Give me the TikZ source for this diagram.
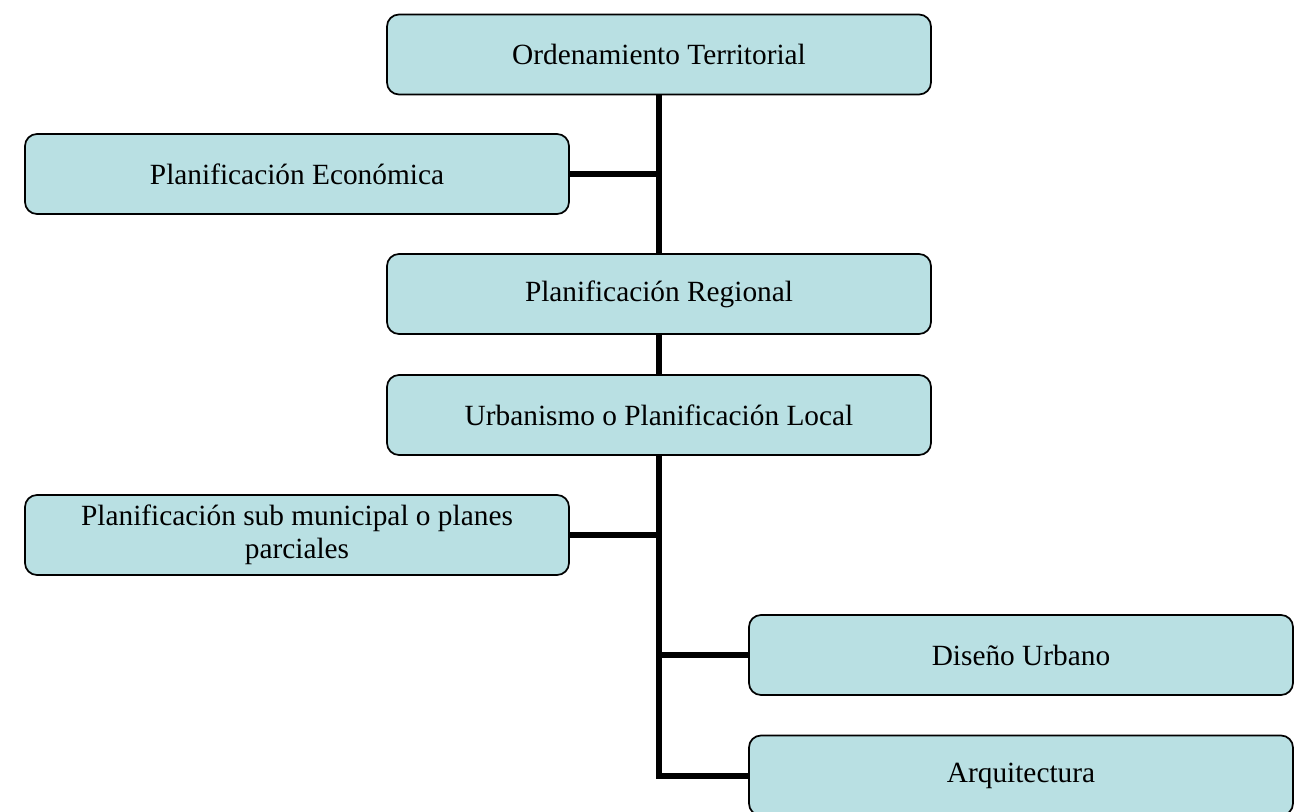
\documentclass[tikz,border=0pt]{standalone}
\usepackage{fontspec}
\setmainfont{Liberation Serif}
\usetikzlibrary{backgrounds}
\definecolor{boxfill}{RGB}{185,224,227}
\tikzset{
  stagebox/.style={draw=black, line width=1.3pt, fill=boxfill, rounded corners=9pt,
    minimum width=408pt, minimum height=60pt, align=center, inner sep=2pt,
    font=\fontsize{22}{25}\selectfont},
  conn/.style={draw=black, line width=4.5pt, line join=miter, line cap=butt}
}
\begin{document}
\begin{tikzpicture}[x=0.75pt, y=-0.75pt]
  \useasboundingbox (0,0) rectangle (1300,811);
  \clip (0,0) rectangle (1300,811);

  \node[stagebox] (b1) at (659,54.5) {Ordenamiento Territorial};
  \node[stagebox] (b2) at (297,174) {Planificación Económica};
  \node[stagebox] (b3) at (659,294) {Planificación Regional};
  \node[stagebox] (b4) at (659,415) {Urbanismo o Planificación Local};
  \node[stagebox] (b5) at (297,535) {Planificación sub municipal o planes\\parciales};
  \node[stagebox] (b6) at (1021,655) {Diseño Urbano};
  \node[stagebox] (b7) at (1021,775.5) {Arquitectura};

  \begin{scope}[on background layer]
    % page background, then the tree connectors behind the boxes
    \fill[white] (0,0) rectangle (1300,811);
    \draw[conn] (b1.south) -- (b3.north);
    \draw[conn] (b2.east) -- (b2.east -| b1.south);
    \draw[conn] (b3.south) -- (b4.north);
    \draw[conn] (b4.south) |- (b7.west);
    \draw[conn] (b5.east) -- (b5.east -| b4.south);
    \draw[conn] (b6.west) -- (b6.west -| b4.south);
  \end{scope}
\end{tikzpicture}
\end{document}
